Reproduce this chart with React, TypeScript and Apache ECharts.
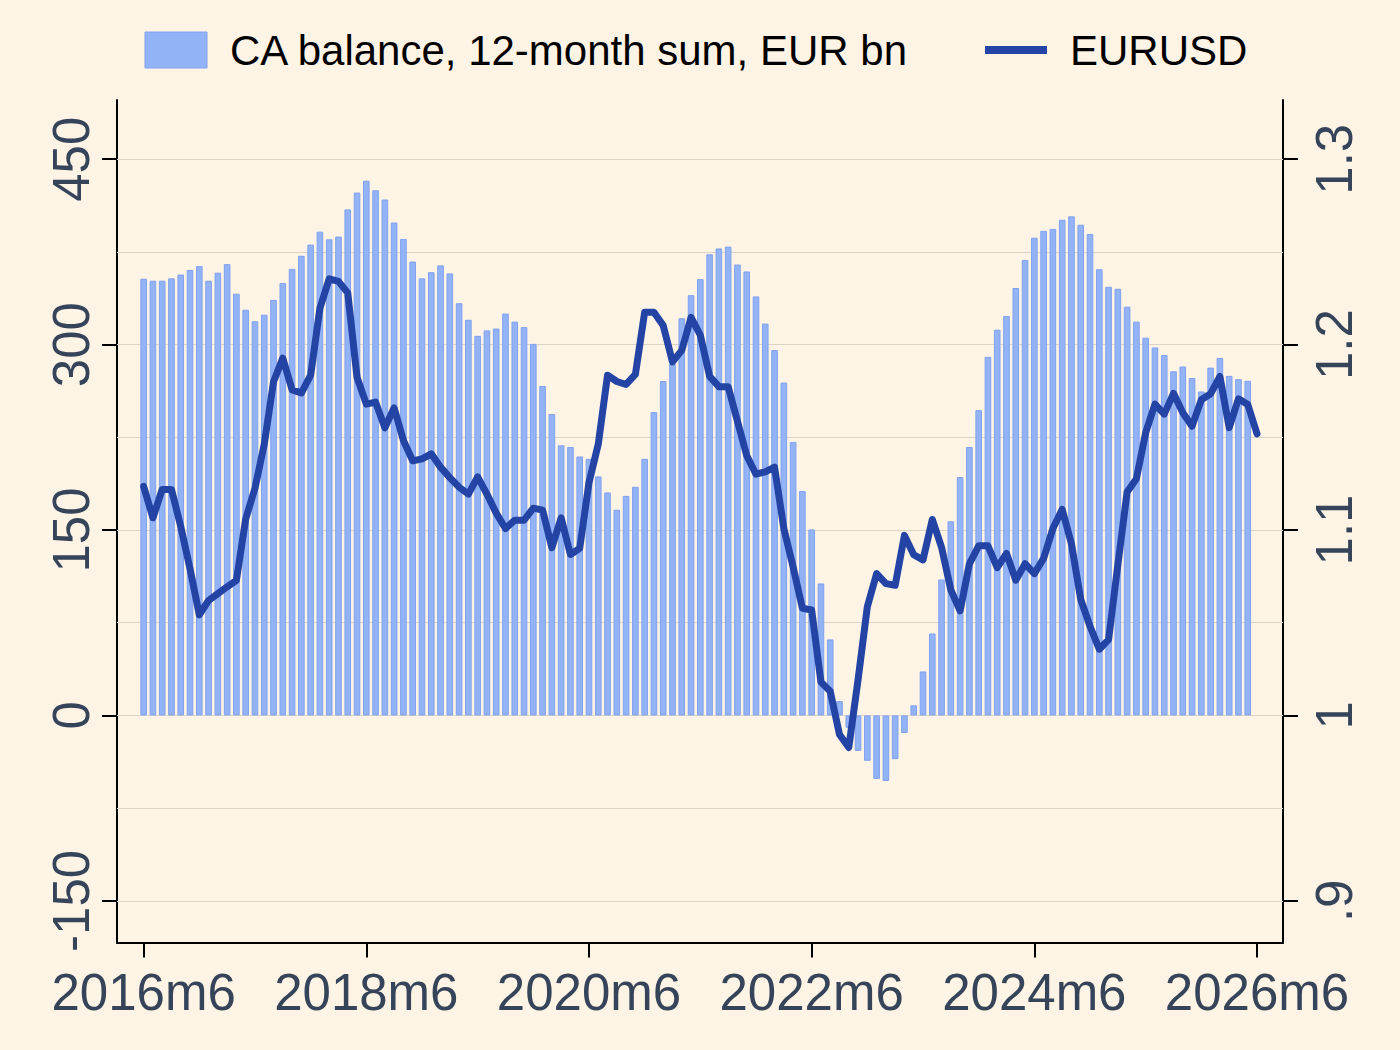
import React, { useEffect, useRef } from "react";
import * as echarts from "echarts";

// Month index 0 = 2016m6
const xTickMonths = [0, 24, 48, 72, 96, 120];
const xTickLabels = ["2016m6", "2018m6", "2020m6", "2022m6", "2024m6", "2026m6"];

const leftTicks = [-150, 0, 150, 300, 450];
const leftTickLabels = ["-150", "0", "150", "300", "450"];
const rightTicks = [0.9, 1, 1.1, 1.2, 1.3];
const rightTickLabels = [".9", "1", "1.1", "1.2", "1.3"];
const gridValues = [-150, -75, 0, 75, 150, 225, 300, 375, 450];

// CA balance, 12-month sum, EUR bn (2016m6 .. 2026m5)
const caBalance = [
  353.3, 351.7, 351.7, 353.6, 356.7, 360.4, 363.5, 351.7, 358.2, 365.1,
  341.2, 328.2, 318.9, 324.2, 336.2, 349.9, 361.3, 371.9, 380.9, 391.4,
  385.2, 387.4, 409.4, 423.0, 432.6, 424.9, 417.4, 398.8, 385.5, 367.2,
  353.6, 358.6, 364.1, 357.6, 333.5, 320.1, 307.1, 311.5, 313.0, 325.1,
  318.6, 314.2, 300.6, 266.5, 243.9, 218.5, 217.2, 209.5, 207.6, 193.4,
  180.4, 166.4, 177.6, 185.0, 207.6, 245.4, 270.5, 284.5, 321.4, 340.0,
  353.0, 373.1, 377.8, 379.3, 364.8, 359.2, 339.0, 317.0, 295.6, 269.3,
  221.3, 181.6, 150.5, 106.8, 61.5, 11.6, -10.0, -28.7, -36.7, -51.4,
  -53.0, -35.4, -14.2, 8.2, 35.6, 66.3, 110.0, 157.1, 192.8, 217.2,
  247.0, 290.1, 312.1, 323.2, 345.8, 368.5, 386.5, 392.0, 393.6, 401.0,
  403.8, 397.0, 389.5, 361.0, 346.8, 345.2, 330.7, 318.6, 305.6, 297.7,
  291.6, 278.4, 282.3, 273.0, 262.1, 281.4, 289.2, 274.7, 272.0, 270.7,
];

// EURUSD (2016m6 .. 2026m6)
const eurusd = [
  1.1235, 1.1066, 1.1219, 1.1219, 1.1019, 1.0791, 1.0543, 1.062, 1.0657, 1.0694,
  1.0729, 1.106, 1.1225, 1.1463, 1.18, 1.1927, 1.1756, 1.1739, 1.1835, 1.2196,
  1.2355, 1.2341, 1.2279, 1.1824, 1.1679, 1.169, 1.1551, 1.1659, 1.1483, 1.1373,
  1.1384, 1.1411, 1.1339, 1.1283, 1.1231, 1.1194, 1.1287, 1.1194, 1.1091, 1.1008,
  1.1053, 1.1053, 1.1118, 1.1107, 1.0905, 1.1066, 1.0868, 1.0901, 1.1256, 1.1463,
  1.1835, 1.1801, 1.1785, 1.1839, 1.2175, 1.2175, 1.2103, 1.1907, 1.1969, 1.2147,
  1.2051, 1.1829, 1.1773, 1.1773, 1.1587, 1.1401, 1.1301, 1.1314, 1.1339, 1.1008,
  1.0801, 1.0578, 1.0569, 1.018, 1.013, 0.9897, 0.9827, 1.0193, 1.0586, 1.0765,
  1.0711, 1.0702, 1.0971, 1.0867, 1.0839, 1.1057, 1.0907, 1.0677, 1.0564, 1.0818,
  1.0915, 1.0915, 1.0797, 1.0874, 1.0729, 1.0818, 1.0765, 1.0847, 1.1008, 1.1111,
  1.0925, 1.0626, 1.0481, 1.0357, 1.0409, 1.0812, 1.1205, 1.1277, 1.1525, 1.1679,
  1.1625, 1.1737, 1.1633, 1.156, 1.1703, 1.1735, 1.1828, 1.1552, 1.1708, 1.1677,
  1.1519,
];

const LEFT_MIN = -183.7;
const LEFT_MAX = 497.9;
const X_MIN = -2.87;
const X_MAX = 122.8;

const BG = "#fef4e6";
const TEXT = "#36445a";
const BAR_FILL = "#93b3f7";
const BAR_BORDER = "#80a1ef";
const LINE_COLOR = "#2344a4";
const FONT = "'Liberation Sans', Arial, sans-serif";

export default function App() {
  const ref = useRef<HTMLDivElement>(null);

  useEffect(() => {
    if (!ref.current) return;
    const chart = echarts.init(ref.current, undefined, { renderer: "svg" });

    const option = {
      animation: false,
      backgroundColor: BG,
      textStyle: { fontFamily: FONT },
      grid: { left: 117, right: 117, top: 100, bottom: 107.5, containLabel: false },
      xAxis: {
        type: "value",
        min: X_MIN,
        max: X_MAX,
        axisLine: { show: true, onZero: false, lineStyle: { color: "#000", width: 2 } },
        axisTick: {
          show: true,
          length: 15,
          customValues: xTickMonths,
          lineStyle: { color: "#000", width: 2 },
        },
        axisLabel: {
          customValues: xTickMonths,
          fontSize: 51,
          color: TEXT,
          fontFamily: FONT,
          margin: 24,
          formatter: (v: number) => {
            const i = xTickMonths.findIndex((t) => Math.abs(t - v) < 1e-6);
            return i >= 0 ? xTickLabels[i] : "";
          },
        },
        splitLine: { show: false },
      },
      yAxis: [
        {
          type: "value",
          position: "left",
          min: LEFT_MIN,
          max: LEFT_MAX,
          axisLine: { show: true, onZero: false, lineStyle: { color: "#000", width: 2 } },
          axisTick: {
            show: true,
            length: 15,
            customValues: leftTicks,
            lineStyle: { color: "#000", width: 2 },
          },
          axisLabel: {
            customValues: leftTicks,
            rotate: 90,
            fontSize: 51,
            color: TEXT,
            fontFamily: FONT,
            margin: 20,
            formatter: (v: number) => {
              const i = leftTicks.findIndex((t) => Math.abs(t - v) < 1e-6);
              return i >= 0 ? leftTickLabels[i] : "";
            },
          },
          splitLine: { show: false },
        },
        {
          type: "value",
          position: "right",
          min: 1 + LEFT_MIN / 1500,
          max: 1 + LEFT_MAX / 1500,
          axisLine: { show: true, onZero: false, lineStyle: { color: "#000", width: 2 } },
          axisTick: {
            show: true,
            length: 15,
            customValues: rightTicks,
            lineStyle: { color: "#000", width: 2 },
          },
          axisLabel: {
            customValues: rightTicks,
            rotate: 90,
            fontSize: 51,
            color: TEXT,
            fontFamily: FONT,
            margin: 26,
            formatter: (v: number) => {
              const i = rightTicks.findIndex((t) => Math.abs(t - v) < 1e-6);
              return i >= 0 ? rightTickLabels[i] : "";
            },
          },
          splitLine: { show: false },
        },
      ],
      graphic: [
        {
          type: "rect",
          shape: { x: 145, y: 32, width: 62, height: 36 },
          style: { fill: BAR_FILL, stroke: BAR_BORDER, lineWidth: 1 },
        },
        {
          type: "text",
          x: 230,
          y: 50,
          style: {
            text: "CA balance, 12-month sum, EUR bn",
            fontSize: 42,
            fontFamily: FONT,
            fill: "#000",
            verticalAlign: "middle",
            align: "left",
          },
        },
        {
          type: "rect",
          shape: { x: 985, y: 46, width: 62, height: 8 },
          style: { fill: LINE_COLOR },
        },
        {
          type: "text",
          x: 1070,
          y: 50,
          style: {
            text: "EURUSD",
            fontSize: 42,
            fontFamily: FONT,
            fill: "#000",
            verticalAlign: "middle",
            align: "left",
          },
        },
      ],
      series: [
        {
          name: "CA balance, 12-month sum, EUR bn",
          type: "bar",
          xAxisIndex: 0,
          yAxisIndex: 0,
          barWidth: 6.6,
          z: 2,
          itemStyle: { color: BAR_FILL, borderColor: BAR_BORDER, borderWidth: 1 },
          data: caBalance.map((v, i) => [i, v]),
          markLine: {
            silent: true,
            symbol: "none",
            z: 1,
            label: { show: false },
            lineStyle: { color: "#dcd2c8", width: 1, type: "solid" },
            data: gridValues.map((v) => ({ yAxis: v })),
          },
        },
        {
          name: "EURUSD",
          type: "line",
          xAxisIndex: 0,
          yAxisIndex: 1,
          z: 3,
          showSymbol: false,
          symbol: "none",
          lineStyle: { color: LINE_COLOR, width: 7, join: "round", cap: "round" },
          itemStyle: { color: LINE_COLOR },
          data: eurusd.map((v, i) => [i, v]),
        },
      ],
    };

    chart.setOption(option as any);
    return () => chart.dispose();
  }, []);

  return (
    <div
      ref={ref}
      style={{ position: "fixed", left: 0, top: 0, width: 1400, height: 1050 }}
    />
  );
}
